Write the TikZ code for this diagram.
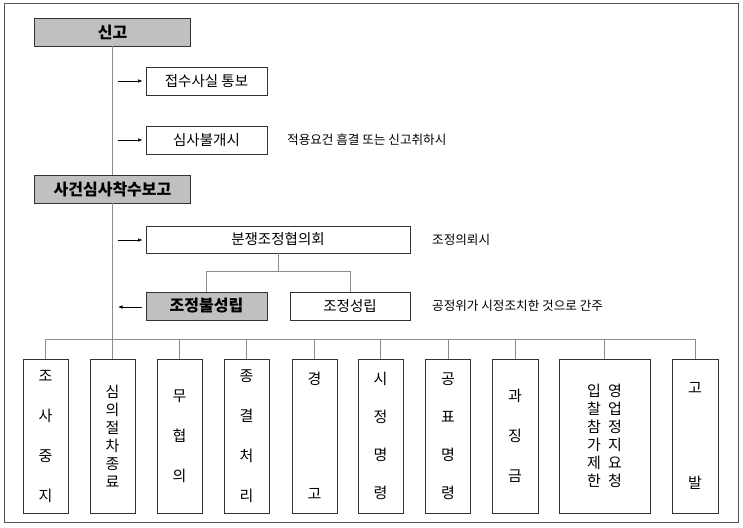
\documentclass[tikz,border=0pt]{standalone}
\usepackage{fontspec}
\newfontfamily\kr{Noto Sans CJK KR}
\usetikzlibrary{arrows.meta}
\definecolor{boxc}{HTML}{333333}
\definecolor{grayf}{HTML}{C0C0C0}
\definecolor{linec}{HTML}{8C8C8C}
\definecolor{framec}{HTML}{555555}
\begin{document}
\begin{tikzpicture}[x=1pt,y=-1pt,
  box/.style={draw=boxc, line width=0.9pt, inner sep=0pt, text=black,
    font={\kr\fontsize{14.5pt}{17pt}\selectfont}},
  graybox/.style={box, fill=grayf, font={\kr\bfseries\fontsize{16pt}{19pt}\selectfont}},
  vbox/.style={box, minimum width=45pt, minimum height=154pt, align=center},
  vt/.style={font={\kr\fontsize{15pt}{#1}\selectfont}},
  conn/.style={draw=linec, line width=0.8pt},
  arr/.style={draw=black, line width=0.6pt, -{Latex[length=4.5pt,width=3.5pt]}},
  note/.style={anchor=west, inner sep=0pt, font={\kr\fontsize{12.6pt}{15pt}\selectfont}}]
\useasboundingbox (0,0) rectangle (743,527);
\draw[framec, line width=1pt] (4,4) rectangle (738,522);

% top column
\node[graybox, minimum width=156pt, minimum height=28pt] (sin) at (112.5,32) {신고};
\node[box, minimum width=121pt, minimum height=28pt] (jeop) at (206.5,81) {접수사실 통보};
\node[box, minimum width=121pt, minimum height=28pt] (simsa) at (206.5,140) {심사불개시};
\node[note] (n1) at (287,140) {적용요건 흠결 또는 신고취하시};
\node[graybox, minimum width=156pt, minimum height=28pt] (sag) at (112.5,189) {사건심사착수보고};

\node[box, minimum width=264pt, minimum height=27pt] (bun) at (278,239.5) {분쟁조정협의회};
\node[note] (n2) at (432,240) {조정의뢰시};
\node[graybox, minimum width=121pt, minimum height=28pt] (bul) at (206.5,306) {조정불성립};
\node[box, minimum width=120pt, minimum height=28pt] (seong) at (350,306) {조정성립};
\node[note] (n3) at (432,306) {공정위가 시정조치한 것으로 간주};

% bottom boxes
\node[vbox, vt=40pt] (b1) at (45.5,436) {조\\사\\중\\지};
\node[vbox, vt=18pt] (b2) at (112.5,436) {심\\의\\절\\차\\종\\료};
\node[vbox, vt=40pt] (b3) at (179.5,436) {무\\협\\의};
\node[vbox, vt=40pt] (b4) at (246.5,436) {종\\결\\처\\리};
\node[vbox, vt=115pt] (b5) at (314.5,436) {경\\고};
\node[vbox, vt=38pt] (b6) at (380.5,436) {시\\정\\명\\령};
\node[vbox, vt=38pt] (b7) at (448,436) {공\\표\\명\\령};
\node[vbox, vt=40pt, minimum width=46pt] (b8) at (515,436) {과\\징\\금};
\node[vbox, vt=18pt, minimum width=91pt] (b9) at (604.5,436)
  {입\hspace{7pt}영\\찰\hspace{7pt}업\\참\hspace{7pt}정\\가\hspace{7pt}지\\제\hspace{7pt}요\\한\hspace{7pt}청};
\node[vbox, vt=95pt, minimum width=46pt] (b10) at (695,436) {고\\발};

% connectors
\draw[conn] (sin.south) -- (sag.north);
\draw[conn] (sag.south) -- (b2.north);
\draw[conn] (bun.south) -- ++(0,18) -| (bul.north);
\draw[conn] (bun.south) ++(0,18) -| (seong.north);
\draw[conn] (b1.north) -- ++(0,-19) -| (b10.north);
\foreach \i in {3,...,9} { \draw[conn] (b\i.north) -- ++(0,-19); }

% arrows
\coordinate (a1) at (118,81);
\coordinate (a2) at (118,140);
\coordinate (a3) at (118,240);
\coordinate (a4) at (118,307);
\draw[arr, shorten >=3pt] (a1) -- (jeop.west);
\draw[arr, shorten >=3pt] (a2) -- (simsa.west);
\draw[arr, shorten >=3pt] (a3) -- (a3 -| bun.west);
\draw[arr, shorten <=4pt] (a4 -| bul.west) -- (a4);
\end{tikzpicture}
\end{document}
